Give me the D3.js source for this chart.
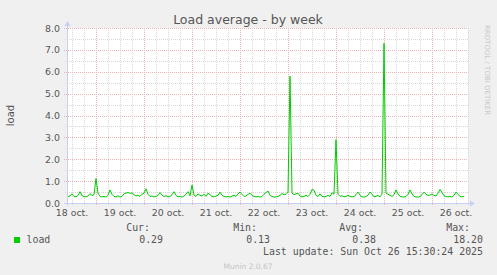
<!DOCTYPE html>
<html>
<head>
<meta charset="utf-8">
<script src="https://cdn.jsdelivr.net/npm/d3@7"></script>
<style>
    body { margin: 0; background: #f0f0f0; }
    svg { display: block; }
</style>
</head>
<body>
<svg id="chart"></svg>
<script>
// hourly load, starting 18 oct 10:00
var start = new Date(2025, 9, 18, 10, 0);
var load = [
    // 18 oct 10:00 - 23:00
    0.30, 0.32, 0.42, 0.30, 0.28, 0.35, 0.52, 0.33, 0.30, 0.28, 0.32, 0.43, 0.34, 0.38,
    // 19 oct
    1.12, 0.45, 0.30, 0.28, 0.30, 0.27, 0.35, 0.60, 0.40, 0.30, 0.28, 0.33,
    0.27, 0.30, 0.42, 0.45, 0.48, 0.44, 0.46, 0.38, 0.32, 0.36, 0.30, 0.40,
    // 20 oct
    0.45, 0.65, 0.40, 0.30, 0.32, 0.28, 0.30, 0.35, 0.48, 0.36, 0.30, 0.33,
    0.28, 0.30, 0.38, 0.52, 0.35, 0.28, 0.30, 0.27, 0.32, 0.40, 0.52, 0.33,
    // 21 oct
    0.82, 0.35, 0.30, 0.42, 0.35, 0.32, 0.40, 0.30, 0.45, 0.38, 0.30, 0.28,
    0.32, 0.35, 0.50, 0.36, 0.30, 0.28, 0.30, 0.27, 0.32, 0.35, 0.30, 0.42,
    // 22 oct
    0.50, 0.40, 0.30, 0.32, 0.40, 0.45, 0.35, 0.30, 0.28, 0.30, 0.27, 0.30,
    0.40, 0.48, 0.55, 0.35, 0.30, 0.27, 0.28, 0.30, 0.35, 0.43, 0.38, 0.40,
    // 23 oct
    0.50, 5.80, 0.45, 0.38, 0.42, 0.45, 0.32, 0.28, 0.30, 0.35, 0.30, 0.40,
    0.62, 0.58, 0.35, 0.30, 0.42, 0.30, 0.28, 0.30, 0.35, 0.30, 0.47, 0.40,
    // 24 oct
    2.90, 0.40, 0.30, 0.33, 0.28, 0.30, 0.35, 0.30, 0.28, 0.30, 0.38, 0.50,
    0.35, 0.28, 0.27, 0.30, 0.35, 0.50, 0.40, 0.28, 0.30, 0.35, 0.28, 0.40,
    // 25 oct
    7.30, 0.45, 0.40, 0.35, 0.30, 0.38, 0.60, 0.42, 0.30, 0.28, 0.27, 0.30,
    0.40, 0.60, 0.42, 0.30, 0.28, 0.27, 0.30, 0.38, 0.50, 0.40, 0.35, 0.36,
    // 26 oct 00:00 - 16:00
    0.42, 0.35, 0.32, 0.45, 0.62, 0.48, 0.33, 0.30, 0.28, 0.30, 0.27, 0.35,
    0.50, 0.40, 0.30, 0.28, 0.30
];
var days = ["18 oct.", "19 oct.", "20 oct.", "21 oct.", "22 oct.", "23 oct.", "24 oct.", "25 oct.", "26 oct."];
var yTicks = [0, 1, 2, 3, 4, 5, 6, 7, 8];
var legendHead = ["Cur:", "Min:", "Avg:", "Max:"];
var legendVals = ["0.29", "0.13", "0.38", "18.20"];

var width = 497,
    height = 275,
    plot = {left: 67, right: 468, top: 28, bottom: 203};

var gridColor = "#d8d8d8",
    majorColor = "#eab4b4",
    axisColor = "#c8cff5",
    fontColor = "#555";

let data = load.map((v, i) => ({t: d3.timeHour.offset(start, i), v: v}));

let x = d3.scaleTime()
    .domain([new Date(2025, 9, 18, 9, 30), new Date(2025, 9, 26, 18, 0)])
    .range([plot.left, plot.right]);

let y = d3.scaleLinear()
    .domain([0, 8])
    .range([plot.bottom, plot.top]);

let svg = d3.select("#chart")
    .attr("width", width)
    .attr("height", height)
    .style("font-family", "DejaVu Sans, sans-serif");

svg.append("rect")
    .attr("x", plot.left).attr("y", plot.top)
    .attr("width", plot.right - plot.left)
    .attr("height", plot.bottom - plot.top)
    .attr("fill", "#fff");

let grid = svg.append("g")
    .attr("shape-rendering", "crispEdges")
    .attr("stroke-dasharray", "1,1")
    .attr("stroke-width", 1);

// minor grid: 6 hours / 0.5
let sixHours = x.ticks(d3.timeHour.every(6)).filter(t => t.getHours() != 0);
grid.selectAll(".vminor").data(sixHours).join("line")
    .attr("x1", d => Math.round(x(d)) + 0.5).attr("x2", d => Math.round(x(d)) + 0.5)
    .attr("y1", plot.top).attr("y2", plot.bottom + 2)
    .attr("stroke", gridColor);

let halves = yTicks.slice(0, -1).map(d => d + 0.5);
grid.selectAll(".hminor").data(halves).join("line")
    .attr("x1", plot.left - 2).attr("x2", plot.right)
    .attr("y1", d => Math.round(y(d)) + 0.5).attr("y2", d => Math.round(y(d)) + 0.5)
    .attr("stroke", gridColor);

// major grid: days / whole units
let midnights = x.ticks(d3.timeDay.every(1));
grid.selectAll(".vmajor").data(midnights).join("line")
    .attr("x1", d => Math.round(x(d)) + 0.5).attr("x2", d => Math.round(x(d)) + 0.5)
    .attr("y1", plot.top).attr("y2", plot.bottom + 3)
    .attr("stroke", majorColor);

grid.selectAll(".hmajor").data(yTicks.slice(1)).join("line")
    .attr("x1", plot.left - 3).attr("x2", plot.right)
    .attr("y1", d => Math.round(y(d)) + 0.5).attr("y2", d => Math.round(y(d)) + 0.5)
    .attr("stroke", majorColor);

// axes with arrows
let ax = svg.append("g").attr("shape-rendering", "crispEdges");
ax.append("line")
    .attr("x1", plot.left + 0.5).attr("x2", plot.left + 0.5)
    .attr("y1", plot.bottom + 3).attr("y2", plot.top - 4)
    .attr("stroke", axisColor);
ax.append("line")
    .attr("x1", plot.left - 3).attr("x2", plot.right + 4)
    .attr("y1", plot.bottom + 0.5).attr("y2", plot.bottom + 0.5)
    .attr("stroke", axisColor);
svg.append("path")
    .attr("d", `M${plot.left - 2.5},${plot.top - 2} L${plot.left + 3.5},${plot.top - 2} L${plot.left + 0.5},${plot.top - 7} Z`)
    .attr("fill", axisColor);
svg.append("path")
    .attr("d", `M${plot.right + 2},${plot.bottom - 2.5} L${plot.right + 2},${plot.bottom + 3.5} L${plot.right + 7},${plot.bottom + 0.5} Z`)
    .attr("fill", axisColor);

// y labels
svg.append("g").selectAll("text").data(yTicks).join("text")
    .attr("x", 60)
    .attr("y", d => y(d) + 3.5)
    .attr("text-anchor", "end")
    .attr("font-size", 9.4)
    .attr("fill", fontColor)
    .text(d3.format(".1f"));

// x labels at noon of each day
let noons = days.map((d, i) => new Date(2025, 9, 18 + i, 12));
svg.append("g").selectAll("text").data(noons).join("text")
    .attr("x", d => x(d))
    .attr("y", 216)
    .attr("text-anchor", "middle")
    .attr("font-size", 9.4)
    .attr("fill", fontColor)
    .text((d, i) => days[i]);

// the load line
let line = d3.line()
    .x(d => x(d.t))
    .y(d => y(Math.min(d.v, 8)));

svg.append("path")
    .datum(data)
    .attr("fill", "none")
    .attr("stroke", "#00cc00")
    .attr("stroke-width", 1)
    .attr("stroke-linejoin", "round")
    .attr("d", line);

// title and labels
svg.append("text")
    .attr("x", 248).attr("y", 23.5)
    .attr("text-anchor", "middle")
    .attr("font-size", 12.5)
    .attr("fill", fontColor)
    .text("Load average - by week");

svg.append("text")
    .attr("transform", `translate(13.5, ${(plot.top + plot.bottom) / 2}) rotate(-90)`)
    .attr("text-anchor", "middle")
    .attr("font-size", 10)
    .attr("fill", fontColor)
    .text("load");

svg.append("text")
    .attr("transform", "translate(485, 25) rotate(90)")
    .attr("font-size", 7)
    .attr("fill", "#c8c8c8")
    .text("RRDTOOL / TOBI OETIKER");

// legend
let mono = svg.append("g")
    .style("font-family", "DejaVu Sans Mono, monospace")
    .attr("font-size", 9.9)
    .attr("fill", fontColor);

let colEnds = [150, 257, 363, 470];
mono.selectAll(".head").data(legendHead).join("text")
    .attr("x", (d, i) => colEnds[i]).attr("y", 231)
    .attr("text-anchor", "end")
    .text(d => d);

mono.selectAll(".val").data(legendVals).join("text")
    .attr("x", (d, i) => colEnds[i] + 13).attr("y", 242.5)
    .attr("text-anchor", "end")
    .text(d => d);

svg.append("rect")
    .attr("x", 14).attr("y", 237)
    .attr("width", 6).attr("height", 6)
    .attr("fill", "#00cc00");

mono.append("text")
    .attr("x", 26.5).attr("y", 242.5)
    .text("load");

mono.append("text")
    .attr("x", 483).attr("y", 254.5)
    .attr("text-anchor", "end")
    .text("Last update: Sun Oct 26 15:30:24 2025");

svg.append("text")
    .attr("x", 248).attr("y", 268.5)
    .attr("text-anchor", "middle")
    .attr("font-size", 7.5)
    .attr("fill", "#c4c4c4")
    .text("Munin 2.0.67");
</script>
</body>
</html>
